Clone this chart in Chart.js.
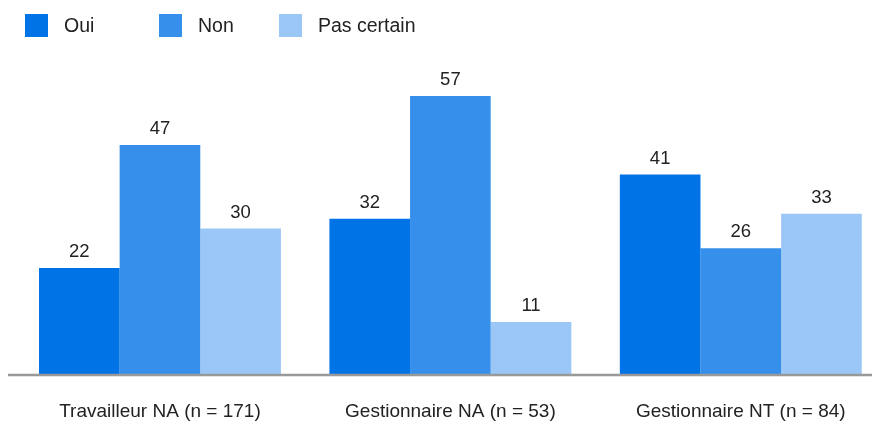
<!DOCTYPE html>
<html>
<head>
<meta charset="utf-8">
<script src="https://cdn.jsdelivr.net/npm/chart.js@4/dist/chart.umd.min.js"></script>
<style>
    html, body { margin: 0; padding: 0; background: #fff; overflow: hidden; }
    #wrap { position: relative; width: 900px; height: 421px; }
    #legend { position: absolute; left: 25px; top: 14px; display: flex; font-family: 'Liberation Sans', Arial, sans-serif; font-size: 19.5px; color: #222; }
    .item { display: flex; align-items: center; height: 23px; }
    .box { width: 23px; height: 23px; margin-right: 16px; }
</style>
</head>
<body>
<div id="wrap">
    <canvas id="chartBars" width="900" height="421"></canvas>
    <div id="legend"></div>
</div>
<script>
const categories = ['Travailleur NA (n = 171)', 'Gestionnaire NA (n = 53)', 'Gestionnaire NT (n = 84)']
const seriesNames = ['Oui', 'Non', 'Pas certain']
const oui = [22, 32, 41]
const non = [47, 57, 26]
const pasCertain = [30, 11, 33]
const colors = ['#0073e6', '#3690eb', '#9ac7f5']
const legendWidths = [134, 120, null]

const font = "'Liberation Sans', Arial, sans-serif"

// values printed over each bar
const valueLabels = {
    id: 'valueLabels',
    afterDatasetsDraw(chart) {
        const ctx = chart.ctx
        ctx.save()
        ctx.font = '18.5px ' + font
        ctx.fillStyle = '#222'
        ctx.textAlign = 'center'
        ctx.textBaseline = 'alphabetic'
        chart.data.datasets.forEach((ds, i) => {
            chart.getDatasetMeta(i).data.forEach((bar, j) => {
                ctx.fillText(ds.data[j], bar.x, bar.y - 11)
            })
        })
        ctx.restore()
    }
}

// grey baseline under the bars
const baseLine = {
    id: 'baseLine',
    afterDatasetsDraw(chart) {
        const ctx = chart.ctx
        const y = chart.scales.y.getPixelForValue(0) - 1
        ctx.save()
        ctx.strokeStyle = '#999'
        ctx.lineWidth = 2.5
        ctx.beginPath()
        ctx.moveTo(8, y)
        ctx.lineTo(chart.width, y)
        ctx.stroke()
        ctx.restore()
    }
}

const datasets = [oui, non, pasCertain].map((d, i) => ({
    label: seriesNames[i],
    data: d,
    backgroundColor: colors[i],
    borderWidth: 0,
    categoryPercentage: 0.833,
    barPercentage: 1
}))

const chart = new Chart(document.getElementById('chartBars'), {
    type: 'bar',
    data: { labels: categories, datasets },
    plugins: [valueLabels, baseLine],
    options: {
        responsive: false,
        animation: false,
        layout: { padding: { left: 14.75, right: 14, top: 32, bottom: 0 } },
        plugins: {
            legend: { display: false },
            tooltip: { enabled: false }
        },
        scales: {
            x: {
                grid: { display: false },
                border: { display: false },
                ticks: { color: '#222', font: { family: font, size: 19 }, padding: 16 },
                afterFit: s => { s.height = 45 }
            },
            y: {
                display: false,
                min: 0,
                max: 70
            }
        }
    }
})

// legend built from the datasets
const legend = document.getElementById('legend')
chart.data.datasets.forEach((ds, i) => {
    const item = document.createElement('div')
    item.className = 'item'
    if (legendWidths[i]) item.style.width = legendWidths[i] + 'px'
    item.innerHTML = '<span class="box" style="background:' + ds.backgroundColor + '"></span>' + ds.label
    legend.appendChild(item)
})
</script>
</body>
</html>
